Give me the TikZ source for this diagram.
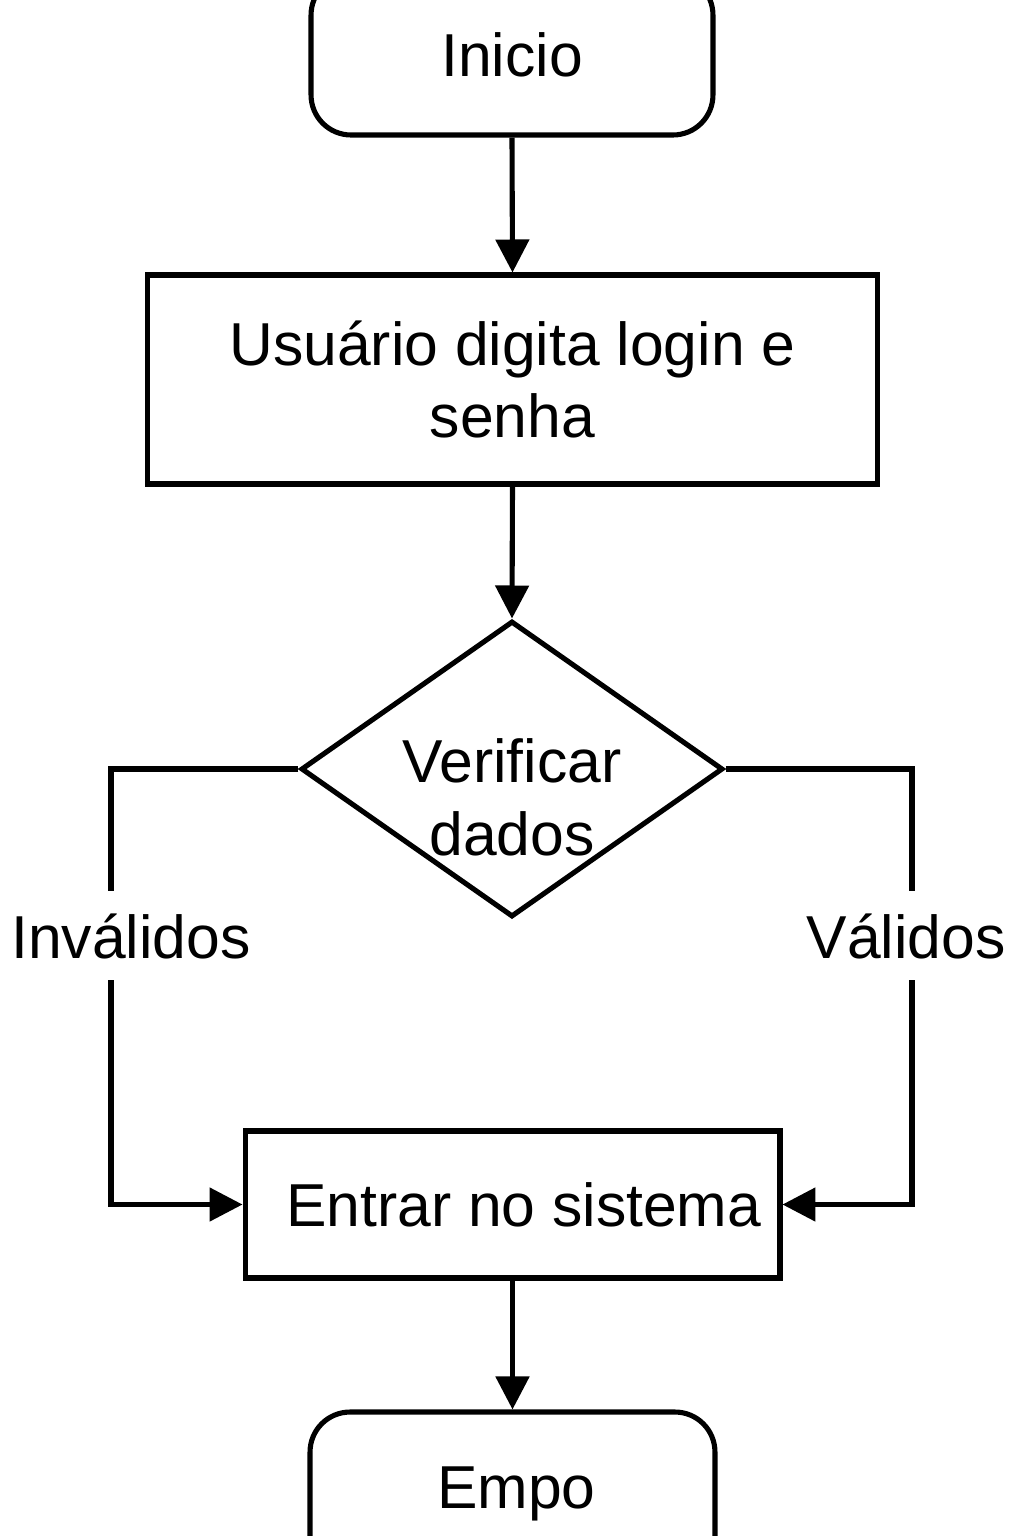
\documentclass[tikz,border=0pt]{standalone}
\usepackage{fontspec}
\setmainfont{Liberation Sans}
\usetikzlibrary{shapes.geometric}
\usetikzlibrary{arrows.meta}

\begin{document}
\begin{tikzpicture}[x=0.02cm,y=-0.02cm,
  every node/.style={font=\fontsize{34.5}{41.5}\selectfont},
  arr/.style={line width=2.9pt,-{Triangle[length=0.66cm,width=0.66cm]}},
  term/.style={draw,line width=2.9pt,rounded corners=0.8cm,inner sep=0pt},
  proc/.style={draw,line width=2.9pt,align=center,inner sep=0pt},
  decis/.style={draw,line width=2.9pt,diamond,inner sep=0pt,minimum width=8.44cm,minimum height=5.92cm},
  lbl/.style={fill=white,anchor=base,inner xsep=2pt,inner ysep=0pt,text height=1.34cm,text depth=0.44cm}]
  \useasboundingbox (0,0) rectangle (1024,1536);
  \clip (0,0) rectangle (1024,1536);
  \node[term,minimum width=8.04cm,minimum height=3.2cm] (ini) at (512,55) {Inicio};
  \node[proc,minimum width=14.62cm,minimum height=4.18cm] (usr) at (512.5,379.5) {Usuário digita login e\\senha};
  \node[decis] (dec) at (512,769) {};
  \node[align=center,inner sep=0pt] (dectxt) at (512,797) {Verificar\\dados};
  \node[proc,minimum width=10.7cm,minimum height=2.94cm] (ent) at (512.5,1204.5) {\hspace*{0.45cm}Entrar no sistema};
  \node[term,minimum width=8.1cm,minimum height=3.28cm] (fim) at (512.5,1494) {\hspace*{0.15cm}Empo};
  \coordinate (invc) at (111,1204.5);
  \coordinate (valc) at (912,1204.5);
  \draw[arr] (ini.south) -- (usr.north);
  \draw[arr] (usr.south) -- (dec.north);
  \draw[arr] (dec.west) -| (invc) -- (ent.west);
  \draw[arr] (dec.east) -| (valc) -- (ent.east);
  \draw[arr] (ent.south) -- (fim.north);
  \node[lbl] (inv) at (131,958) {Inválidos};
  \node[lbl] (val) at (906,958) {Válidos};
\end{tikzpicture}
\end{document}
